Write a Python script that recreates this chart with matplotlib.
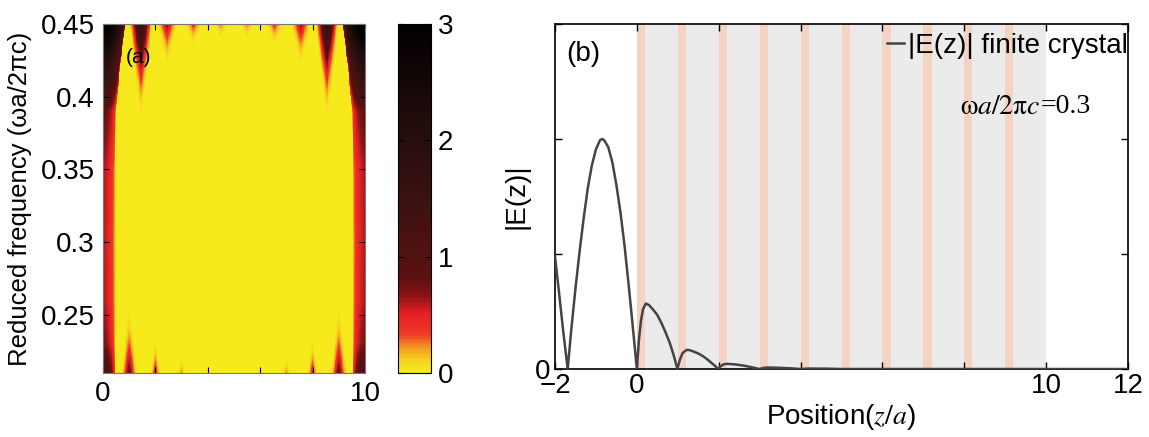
import numpy as np
import matplotlib
matplotlib.use("Agg")
import matplotlib.pyplot as plt
from matplotlib.colors import LinearSegmentedColormap

plt.rcParams["font.family"] = ["Liberation Sans", "DejaVu Sans"]
plt.rcParams["mathtext.fontset"] = "stix"

# ---------------- panel (a): field map over position / reduced frequency
pos_range = (0.0, 10.0)
freq_range = (0.21, 0.45)

# field at the two crystal surfaces, per frequency
edge_freq = [0.21, 0.23, 0.26, 0.30, 0.35, 0.39, 0.42, 0.45]
edge_peak = [1.2, 0.75, 0.62, 0.6, 0.62, 0.85, 2.0, 3.4]
edge_width = [0.45, 0.45, 0.45, 0.45, 0.46, 0.5, 0.65, 0.85]

# downward cones at the top band edge
top_cone_x = [1.45, 2.45, 3.45, 4.5, 5.5, 6.55, 7.55, 8.55]
top_cone_peak = [2.0, 0.75, 0.45, 0.3, 0.3, 0.45, 0.75, 2.0]
top_cone_tip = [0.375, 0.415, 0.43, 0.435, 0.435, 0.43, 0.415, 0.375]
top_cone_half = [0.45, 0.4, 0.35, 0.3, 0.3, 0.35, 0.4, 0.45]

# upward cones at the bottom band edge
bot_cone_x = [1, 2, 3, 4, 5, 6, 7, 8, 9]
bot_cone_peak = [1.0, 0.6, 0.28, 0.1, 0.06, 0.1, 0.28, 0.6, 1.0]
bot_cone_tip = [0.275, 0.245, 0.232, 0.222, 0.22, 0.222, 0.232, 0.245, 0.275]
bot_cone_half = [0.3, 0.2, 0.15, 0.1, 0.1, 0.1, 0.15, 0.2, 0.3]

cbar_ticks = [0, 1, 2, 3]

# ---------------- panel (b): |E(z)| at wa/2pic = 0.3
z_pos = [-2.0, -1.9, -1.8, -1.69, -1.6, -1.5, -1.4, -1.3, -1.2, -1.1, -1.0,
         -0.9, -0.85, -0.8, -0.7, -0.6, -0.5, -0.4, -0.3, -0.2, -0.1, 0.0,
         0.05, 0.1, 0.15, 0.22, 0.3, 0.4, 0.5, 0.6, 0.7, 0.8, 0.9, 0.99,
         1.05, 1.12, 1.22, 1.3, 1.4, 1.5, 1.6, 1.7, 1.8, 1.9, 1.99,
         2.05, 2.12, 2.2, 2.4, 2.6, 2.8, 2.99,
         3.1, 3.2, 3.5, 3.8, 4.0, 4.2, 4.6, 5.0, 12.0]
e_abs = [0.98, 0.66, 0.33, 0.0, 0.35, 0.70, 1.02, 1.31, 1.57, 1.77, 1.91,
         1.99, 2.0, 1.99, 1.93, 1.80, 1.60, 1.36, 1.07, 0.73, 0.37, 0.0,
         0.25, 0.42, 0.52, 0.57, 0.555, 0.515, 0.47, 0.40, 0.32, 0.23, 0.12, 0.0,
         0.08, 0.14, 0.167, 0.163, 0.15, 0.135, 0.115, 0.09, 0.06, 0.03, 0.0,
         0.025, 0.04, 0.045, 0.04, 0.03, 0.016, 0.0,
         0.01, 0.013, 0.01, 0.005, 0.0, 0.004, 0.003, 0.0, 0.0]
cell_starts = [0, 1, 2, 3, 4, 5, 6, 7, 8, 9]
layer_thickness = 0.2
crystal_span = (0, 10)

# ---------------- build field map
x = np.linspace(*pos_range, 600)
f = np.linspace(*freq_range, 360)
X, F = np.meshgrid(x, f)
Z = np.full_like(X, 0.02)

pk = np.interp(F, edge_freq, edge_peak)
wd = np.interp(F, edge_freq, edge_width)
for d in (X - pos_range[0], pos_range[1] - X):
    prof = np.clip(1 - d / wd, 0, None) ** 0.35
    Z = np.maximum(Z, pk * prof)

ftop = freq_range[1]
for xc, p, tip, hw in zip(top_cone_x, top_cone_peak, top_cone_tip, top_cone_half):
    s = np.clip((F - tip) / (ftop - tip), 0, 1)
    w = hw * s + 1e-9
    prof = np.clip(1 - np.abs(X - xc) / w, 0, None) ** 1.3
    Z = np.maximum(Z, p * s ** 2.3 * prof)

fbot = freq_range[0]
for xc, p, tip, hw in zip(bot_cone_x, bot_cone_peak, bot_cone_tip, bot_cone_half):
    s = np.clip((tip - F) / (tip - fbot), 0, 1)
    w = hw * s + 1e-9
    prof = np.clip(1 - np.abs(X - xc) / w, 0, None) ** 1.3
    Z = np.maximum(Z, p * s ** 3.0 * prof)

cmap = LinearSegmentedColormap.from_list(
    "field",
    [(0.00, "#f6ec1c"), (0.035, "#f5d21e"), (0.07, "#f59a22"),
     (0.11, "#ee3a26"), (0.17, "#e41f24"), (0.22, "#8c1414"),
     (0.27, "#5c1010"), (0.5, "#3a1212"), (0.75, "#1e0b0b"), (1.0, "#000000")],
    N=256)

fig = plt.figure(figsize=(11.49, 4.37), dpi=100)
W, H = 1149, 437

def box(l, r, t, b):
    return [l / W, 1 - b / H, (r - l) / W, (b - t) / H]

axa = fig.add_axes(box(103, 365, 24, 373))
im = axa.pcolormesh(x, f, Z, cmap=cmap, vmin=0, vmax=3, shading="auto",
                    rasterized=True)
axa.set_xlim(*pos_range)
axa.set_ylim(*freq_range)
axa.set_xticks([0, 2, 4, 6, 8, 10])
axa.set_xticklabels(["0", "", "", "", "", "10"])
axa.set_yticks([0.25, 0.3, 0.35, 0.4, 0.45])
axa.set_yticklabels(["0.25", "0.3", "0.35", "0.4", "0.45"])
axa.tick_params(direction="in", top=True, right=True, labelsize=20,
                length=4, width=0.8, pad=6)
axa.set_ylabel("Reduced frequency (ωa/2πc)", fontsize=18.5, labelpad=6)
axa.text(1.35, 0.427, "(a)", fontsize=15, ha="center", va="center")
for sp in axa.spines.values():
    sp.set_color("#777777")
    sp.set_linewidth(0.8)

cax = fig.add_axes(box(398, 431, 24, 373))
cb = fig.colorbar(im, cax=cax, ticks=cbar_ticks)
cb.ax.tick_params(direction="in", left=True, right=True, labelsize=20,
                  length=4, width=0.8, pad=5)
cb.outline.set_linewidth(0.8)

# ---------------- panel (b)
axb = fig.add_axes(box(555, 1128, 24, 369))
axb.axvspan(*crystal_span, color="#ebebeb", lw=0, zorder=0)
for c in cell_starts:
    axb.axvspan(c, c + layer_thickness, color="#f4d3c3", lw=0, zorder=0.5)
line, = axb.plot(z_pos, e_abs, color="#444444", lw=1.8, zorder=3,
                 label="|E(z)| finite crystal")
axb.set_xlim(-2, 12)
axb.set_ylim(0, 3)
axb.set_xticks([-2, 0, 2, 4, 6, 8, 10, 12])
axb.set_xticklabels(["\u22122", "0", "", "", "", "", "10", "12"])
axb.set_yticks([0, 1, 2, 3])
axb.set_yticklabels(["0", "", "", ""])
axb.tick_params(direction="in", top=True, right=True, labelsize=20,
                length=5, width=1.0, pad=3)
axb.set_ylabel("|E(z)|", fontsize=20, labelpad=4)
axb.set_xlabel(r"Position($z/a$)", fontsize=20, labelpad=2)
axb.text(-1.3, 2.74, "(b)", fontsize=20, ha="center", va="center")
axb.legend(handles=[line], loc="upper right", bbox_to_anchor=(1.0, 0.975),
           frameon=False, fontsize=20, handlelength=0.6, handletextpad=0.15,
           borderpad=0, borderaxespad=0)
freq_lbl = axb.text(7.9, 2.28, r"$\mathrm{\omega}a/2\mathrm{\pi}c$",
                    fontsize=20, ha="left", va="center")
axb.annotate("=0.3", xy=(1, 0.5), xycoords=freq_lbl, xytext=(0, 0),
             textcoords="offset points", ha="left", va="center",
             fontsize=20, family="Liberation Serif")
for sp in axb.spines.values():
    sp.set_linewidth(1.2)

fig.savefig("out.png", dpi=100)
